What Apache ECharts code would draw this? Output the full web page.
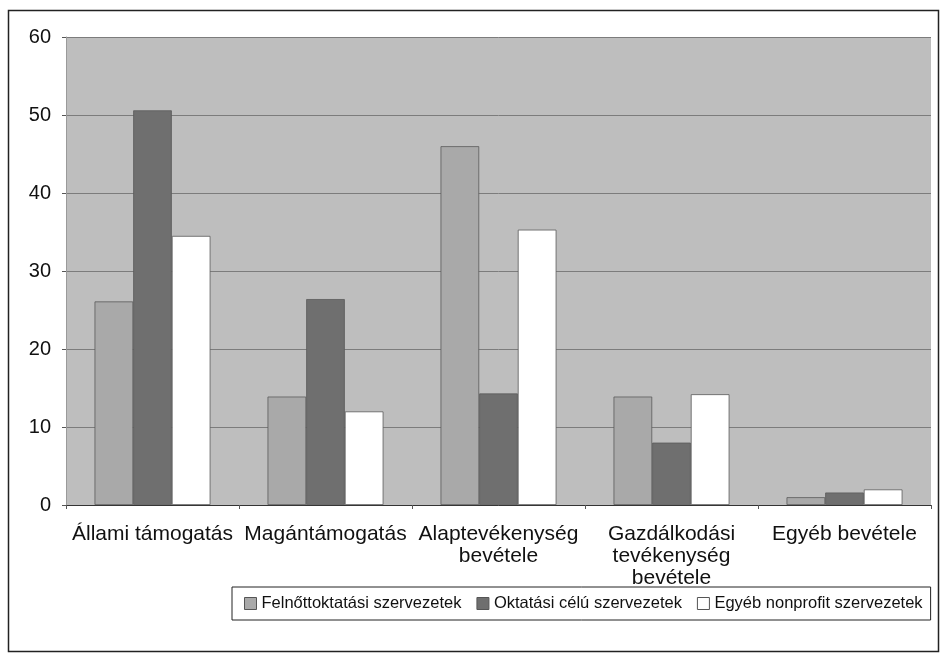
<!DOCTYPE html>
<html>
<head>
<meta charset="utf-8">
<script src="https://cdn.jsdelivr.net/npm/echarts@6/dist/echarts.min.js"></script>
<style>
  html, body { margin: 0; padding: 0; background: #fff; }
  #chart { width: 945px; height: 657px; }
</style>
</head>
<body>
<div id="chart"></div>
<script>
// kategóriák és értékek
const categories = ['Állami támogatás', 'Magántámogatás', 'Alaptevékenység\nbevétele', 'Gazdálkodási\ntevékenység\nbevétele', 'Egyéb bevétele']
const seriesNames = ['Felnőttoktatási szervezetek', 'Oktatási célú szervezetek', 'Egyéb nonprofit szervezetek']
const felnottoktatasi = [26.1, 13.9, 46.0, 13.9, 1.0]
const oktatasiCelu = [50.6, 26.4, 14.3, 8.0, 1.6]
const egyebNonprofit = [34.5, 12.0, 35.3, 14.2, 2.0]
const yTicks = { min: 0, max: 60, interval: 10 }

const colors = ['#a9a9a9', '#6f6f6f', '#ffffff']
const font = 'Liberation Sans, Arial, sans-serif'

const chart = echarts.init(document.getElementById('chart'))

const mkSeries = (name, data, color) => ({
  name,
  type: 'bar',
  data,
  barGap: '0%',
  barCategoryGap: '33%',
  itemStyle: { color, borderColor: '#5a5a5a', borderWidth: 0.8 },
})

chart.setOption({
  animation: false,
  textStyle: { fontFamily: font },
  // külső keret
  graphic: [
    {
      type: 'rect',
      shape: { x: 8.5, y: 10.5, width: 930, height: 641 },
      style: { fill: 'none', stroke: '#222', lineWidth: 1.5 },
      silent: true,
    },
  ],
  grid: {
    left: 66,
    right: 14,
    top: 37,
    bottom: 152,
    show: true,
    backgroundColor: '#bebebe',
    borderWidth: 0,
  },
  legend: {
    left: 232,
    top: 587,
    itemWidth: 12,
    itemHeight: 12,
    itemGap: 15,
    padding: [8, 8, 8, 12],
    borderColor: '#222',
    borderWidth: 1,
    icon: 'rect',
    itemStyle: { borderColor: '#555', borderWidth: 1 },
    textStyle: { fontSize: 16.5, color: '#111', fontFamily: font },
    data: seriesNames,
  },
  xAxis: {
    type: 'category',
    data: categories,
    axisLine: { lineStyle: { color: '#333', width: 1 } },
    axisTick: { show: true, length: 4, lineStyle: { color: '#555' } },
    axisLabel: {
      color: '#111',
      fontSize: 21,
      lineHeight: 22,
      margin: 18,
      interval: 0,
      fontFamily: font,
    },
  },
  yAxis: {
    type: 'value',
    min: yTicks.min,
    max: yTicks.max,
    interval: yTicks.interval,
    axisLine: { show: true, lineStyle: { color: '#9a9a9a' } },
    axisTick: { show: true, length: 4, lineStyle: { color: '#555' } },
    axisLabel: { color: '#111', fontSize: 20, margin: 15, fontFamily: font },
    splitLine: { lineStyle: { color: '#7c7c7c', width: 1 } },
  },
  series: [
    mkSeries(seriesNames[0], felnottoktatasi, colors[0]),
    mkSeries(seriesNames[1], oktatasiCelu, colors[1]),
    mkSeries(seriesNames[2], egyebNonprofit, colors[2]),
  ],
})
</script>
</body>
</html>
